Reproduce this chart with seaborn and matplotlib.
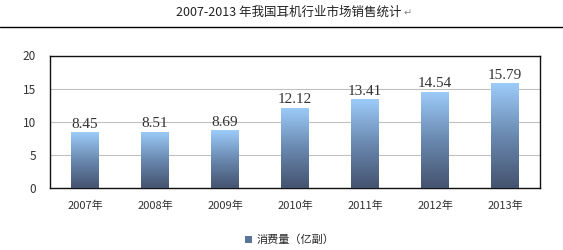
import numpy as np
import pandas as pd
import matplotlib
matplotlib.use("Agg")
import matplotlib.pyplot as plt
import seaborn as sns
from matplotlib.colors import LinearSegmentedColormap
from matplotlib.patches import Rectangle

years = ["2007年", "2008年", "2009年", "2010年", "2011年", "2012年", "2013年"]
sales = [8.45, 8.51, 8.69, 12.12, 13.41, 14.54, 15.79]
series_name = "消费量（亿副）"
title = "2007-2013 年我国耳机行业市场销售统计"

sns.set_style("white")
plt.rcParams["font.family"] = ["Noto Sans CJK SC", "DejaVu Sans"]

df = pd.DataFrame({"year": years, "sales": sales})

fig = plt.figure(figsize=(5.63, 2.5), dpi=100)
ax = fig.add_axes([50 / 563, 1 - 188 / 250, 490 / 563, 132.5 / 250])

sns.barplot(data=df, x="year", y="sales", ax=ax, width=0.4, color="#8fb8e0",
            saturation=1, edgecolor="none")

# gradient fill: light blue at top, dark slate at bottom
cmap = LinearSegmentedColormap.from_list("bar", ["#44536f", "#6a89b0", "#9dccfa"])
grad = np.linspace(0, 1, 256).reshape(-1, 1)
for p in ax.patches:
    x0, y0 = p.get_x(), p.get_y()
    w, h = p.get_width(), p.get_height()
    im = ax.imshow(grad, cmap=cmap, aspect="auto", origin="lower",
                   extent=[x0, x0 + w, y0, y0 + h], zorder=3)
    im.set_clip_path(p)
    p.set_facecolor("none")
    ax.text(x0 + w / 2, h + 0.2, f"{h:.2f}", ha="center", va="bottom",
            fontsize=11, family="Liberation Serif", color="#333333", zorder=4)

ax.set_xlim(-0.5, len(years) - 0.5)
ax.set_ylim(0, 20)
ax.set_yticks([0, 5, 10, 15, 20])
ax.yaxis.grid(True, color="#c0c0c0", linewidth=0.8)
ax.set_axisbelow(True)
ax.set_xlabel("")
ax.set_ylabel("")
ax.tick_params(axis="y", labelsize=8.5, length=0, pad=10, colors="#333333")
ax.tick_params(axis="x", labelsize=8, length=0, pad=9, colors="#333333")
ax.set_xticks(np.arange(-0.5, len(years) + 0.5), minor=True)
ax.tick_params(axis="x", which="minor", length=4, direction="out", color="#222222")
for s in ax.spines.values():
    s.set_visible(True)
    s.set_color("#111111")
    s.set_linewidth(1)

# title and rule under it
fig.text(0.512, 1 - 12 / 250, title, ha="center", va="center", fontsize=9,
         color="#222222")
fig.text(0.512 + 0.2045, 1 - 13 / 250, "↵", ha="left", va="center", fontsize=7,
         color="#888888", family="DejaVu Sans")
fig.add_artist(plt.Line2D([0, 1], [1 - 27 / 250, 1 - 27 / 250], color="black",
                          linewidth=1, transform=fig.transFigure))

# legend
handle = Rectangle((0, 0), 1, 1, facecolor="#5b7599", edgecolor="none")
fig.legend([handle], [series_name], loc="center", bbox_to_anchor=(0.515, 1 - 240 / 250),
           frameon=False, fontsize=8, handlelength=0.6, handleheight=0.6,
           handletextpad=0.4)

fig.savefig("out.png", dpi=100)
